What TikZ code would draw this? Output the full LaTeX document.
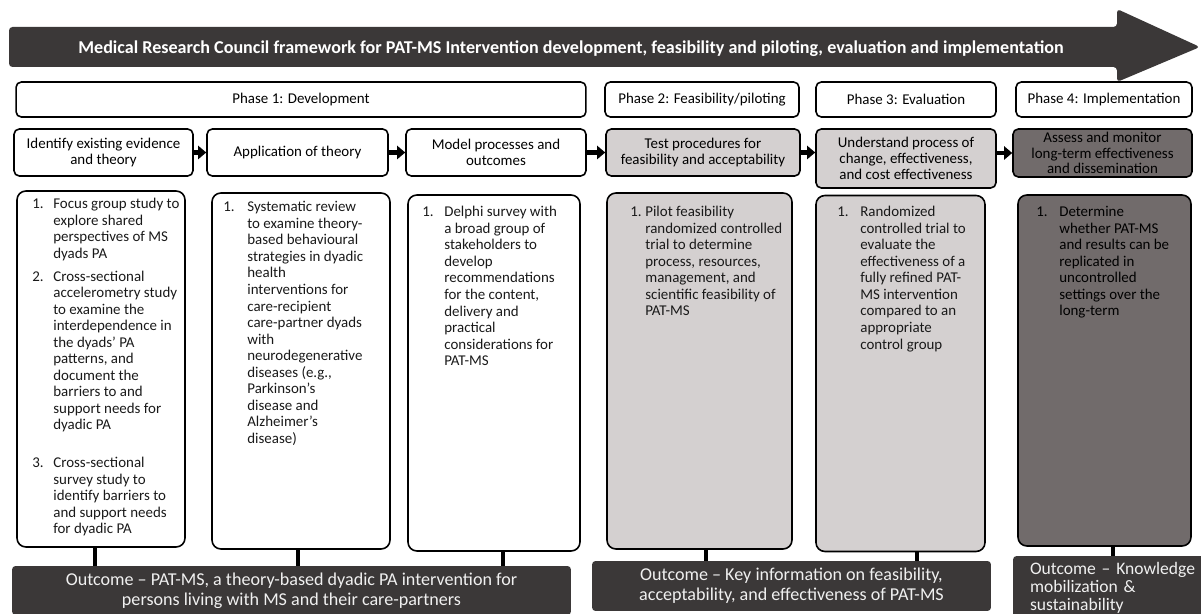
\documentclass[tikz,border=0pt]{standalone}
\usepackage{fontspec}
\setmainfont{Carlito}
\usetikzlibrary{arrows.meta,calc,positioning}
\definecolor{boxgrey}{RGB}{212,208,208}
\definecolor{implgrey}{RGB}{113,107,107}
\definecolor{bandgrey}{RGB}{59,56,56}
\newcommand{\numlist}[2]{\begin{tabular}{@{}p{#1}@{}l@{}}#2\end{tabular}}

\begin{document}
\begin{tikzpicture}[x=0.02cm, y=-0.02cm,
    phase/.style={draw, line width=0.9pt, rounded corners=3pt, minimum height=0.7cm, inner sep=2pt, font=\fontsize{8.5}{10}\selectfont},
    stepbox/.style={draw, line width=0.9pt, rounded corners=3pt, align=center, inner sep=1pt, font=\fontsize{8.5}{9.1}\selectfont},
    studybox/.style={draw, line width=0.9pt, rounded corners=5pt, minimum height=7.12cm},
    studytext/.style={anchor=north west, inner sep=0pt, text=black!90, font=\fontsize{8.5}{9.4}\selectfont},
    outcome/.style={fill=bandgrey, rounded corners=2pt, text=white!94!black, align=center, font=\fontsize{10.3}{11.4}\selectfont},
    arrow/.style={-{Triangle[length=1.6mm, width=2.6mm]}, line width=2.4pt},
    stub/.style={line width=2.8pt}
]
    \useasboundingbox (0,0) rectangle (1201,614);

    % MRC framework arrow
    \fill[bandgrey, rounded corners=2pt] (9,27) -- (1117,27) -- (1117,9) -- (1200,47) -- (1117,82) -- (1117,67) -- (9,67) -- cycle;
    \node[text=white, font=\bfseries\fontsize{10.3}{12}\selectfont] (title) at (571,49) {Medical Research Council framework for PAT-MS Intervention development, feasibility and piloting, evaluation and implementation};

    % Phases
    \node[phase, minimum width=11.4cm] (ph1) at (301,99.5) {Phase 1: Development};
    \node[phase, minimum width=3.88cm] (ph2) at (702,99.5) {Phase 2: Feasibility/piloting};
    \node[phase, minimum width=3.6cm] (ph3) at (906,99.5) {Phase 3: Evaluation};
    \node[phase, minimum width=3.52cm] (ph4) at (1104,99.5) {Phase 4: Implementation};

    % Steps
    \node[stepbox, minimum width=3.58cm, minimum height=0.94cm] (s1) at (103.5,152.5) {Identify existing evidence\\and theory};
    \node[stepbox, minimum width=3.62cm, minimum height=0.94cm] (s2) at (297.5,152.5) {Application of theory};
    \node[stepbox, minimum width=3.6cm, minimum height=0.94cm] (s3) at (496,152.5) {Model processes and\\outcomes};
    \node[stepbox, fill=boxgrey, minimum width=3.88cm, minimum height=0.94cm] (s4) at (703,152.5) {Test procedures for\\feasibility and acceptability};
    \node[stepbox, fill=boxgrey, minimum width=3.6cm, minimum height=1.18cm] (s5) at (906,158.5) {Understand process of\\change, effectiveness,\\and cost effectiveness};
    \node[stepbox, fill=implgrey, minimum width=3.58cm, minimum height=0.96cm, font=\fontsize{8.5}{8.8}\selectfont] (s6) at (1102.5,153) {Assess and monitor\\long-term effectiveness\\and dissemination};

    % Arrows between steps
    \draw[arrow] (s1) -- (s2);
    \draw[arrow] (s2) -- (s3);
    \draw[arrow] (s3) -- (s4);
    \draw[arrow] (s4.east) -- (s4.east -| s5.west);
    \draw[arrow] (s5.east |- s6.west) -- (s6.west);

    % Studies
    \node[studybox, minimum width=3.36cm] (c1) at (101,369) {};
    \node[studybox, minimum width=3.56cm] (c2) at (301,371) {};
    \node[studybox, minimum width=3.44cm] (c3) at (494,373) {};
    \node[studybox, fill=boxgrey, minimum width=3.7cm] (c4) at (699.5,371) {};
    \node[studybox, fill=boxgrey, minimum width=3.38cm] (c5) at (900.5,373.5) {};
    \node[studybox, fill=implgrey, minimum width=3.46cm, minimum height=7.02cm] (c6) at (1104.5,370.5) {};

    \node[studytext] (t1) at (32,197) {\numlist{0.42cm}{1. & Focus group study to\\ & explore shared\\ & perspectives of MS\\ & dyads PA\\[3.6pt]
        2. & Cross-sectional\\ & accelerometry study\\ & to examine the\\ & interdependence in\\ & the dyads’ PA\\ & patterns, and\\ & document the\\ & barriers to and\\ & support needs for\\ & dyadic PA\\[12pt]
        3. & Cross-sectional\\ & survey study to\\ & identify barriers to\\ & and support needs\\ & for dyadic PA}};
    \node[studytext] (t2) at (223,200) {\numlist{0.48cm}{1. & Systematic review\\ & to examine theory-\\ & based behavioural\\ & strategies in dyadic\\ & health\\ & interventions for\\ & care-recipient\\ & care-partner dyads\\ & with\\ & neurodegenerative\\ & diseases (e.g.,\\ & Parkinson’s\\ & disease and\\ & Alzheimer’s\\ & disease)}};
    \node[studytext] (t3) at (422,205) {\numlist{0.44cm}{1. & Delphi survey with\\ & a broad group of\\ & stakeholders to\\ & develop\\ & recommendations\\ & for the content,\\ & delivery and\\ & practical\\ & considerations for\\ & PAT-MS}};
    \node[studytext] (t4) at (630,205) {\numlist{0.3cm}{1. & Pilot feasibility\\ & randomized controlled\\ & trial to determine\\ & process, resources,\\ & management, and\\ & scientific feasibility of\\ & PAT-MS}};
    \node[studytext] (t5) at (837,205) {\numlist{0.46cm}{1. & Randomized\\ & controlled trial to\\ & evaluate the\\ & effectiveness of a\\ & fully refined PAT-\\ & MS intervention\\ & compared to an\\ & appropriate\\ & control group}};
    \node[studytext, text=black] (t6) at (1036,205) {\numlist{0.46cm}{1. & Determine\\ & whether PAT-MS\\ & and results can be\\ & replicated in\\ & uncontrolled\\ & settings over the\\ & long-term}};

    % Outcomes
    \node[outcome, minimum width=11.18cm, minimum height=0.98cm] (o1) at (291.5,590.5) {Outcome -- PAT-MS, a theory-based dyadic PA intervention for\\persons living with MS and their care-partners};
    \node[outcome, minimum width=7.98cm, minimum height=1cm] (o2) at (791.5,586) {Outcome -- Key information on feasibility,\\acceptability, and effectiveness of PAT-MS};
    \node[outcome, align=left, text width=3.36cm, inner xsep=0.34cm, minimum height=1.22cm, font=\fontsize{10}{10.3}\selectfont] (o3) at (1114,587.5) {Outcome -- Knowledge\\mobilization \&\\sustainability};

    % Links to outcomes
    \draw[stub] ($(c1.south)+(-6,0)$) -- ($(c1.south |- o1.north)+(-6,0)$);
    \draw[stub] ($(c2.south)+(-3,0)$) -- ($(c2.south |- o1.north)+(-3,0)$);
    \draw[stub] ($(c3.south)+(9,0)$) -- ($(c3.south |- o1.north)+(9,0)$);
    \draw[stub] ($(c4.south)+(6.5,0)$) -- ($(c4.south |- o2.north)+(6.5,0)$);
    \draw[stub] ($(c5.south)+(16.5,0)$) -- ($(c5.south |- o2.north)+(16.5,0)$);
    \draw[stub] ($(c6.south)+(8.5,0)$) -- ($(c6.south |- o3.north)+(8.5,0)$);
\end{tikzpicture}
\end{document}
